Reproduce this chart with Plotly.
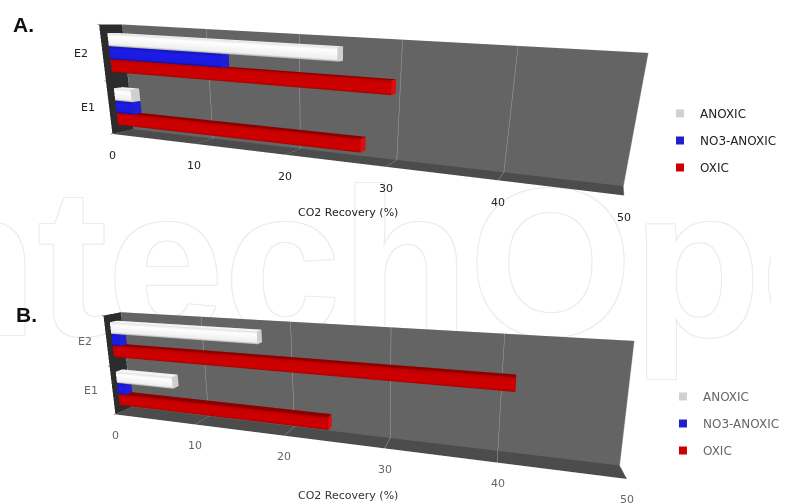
import numpy as np
import plotly.graph_objects as go

categories = ["E1", "E2"]
series_names = ["OXIC", "NO3-ANOXIC", "ANOXIC"]
panel_a_oxic = [27.2, 29.9]
panel_a_no3 = [2.1, 13.0]
panel_a_anoxic = [2.1, 24.8]
panel_b_oxic = [24.3, 41.1]
panel_b_no3 = [1.0, 1.0]
panel_b_anoxic = [7.1, 17.2]
value_ticks = [0, 10, 20, 30, 40, 50]

W, H = 785, 503

# camera: eye x/y/z, center x/y/z, roll, depth aspect, height aspect
CAM_A = [0.8842, -2.0709, 0.2841, 0.1703, 0.0644, -0.5852, -0.0423, 0.1258, 0.4249]
CAM_B = [0.5647, -1.4646, 0.5339, 0.0259, 0.6428, 0.1114, -0.0050, 0.0867, 0.4331]

COLORS = {
    "OXIC": dict(levels=["#a80000", "#cc0000", "#cc0000", "#b80000"], top="#8e0000", cap="#d81010", leg="#cc0000"),
    "NO3-ANOXIC": dict(levels=["#10109a", "#1a1ae0", "#1c1ce6", "#1414b8"], top="#0c0c80", cap="#2020d0", leg="#2020c8"),
    "ANOXIC": dict(levels=["#a8a8a8", "#efefef", "#ffffff", "#e2e2e2"], top="#f4f4f4", cap="#cfcfcf", leg="#d0d0d0"),
}
FRAC = [0, 0.15, 0.75, 1]
FLAT = dict(ambient=1, diffuse=0, specular=0, fresnel=0)


def bar_trace(name, values, scene, slot):
    xs, ys, zs, cols, I, J, K = [], [], [], [], [], [], []

    def quad(a, b, c, d, ca, cb, cc, cd):
        n = len(xs)
        for v, col in zip((a, b, c, d), (ca, cb, cc, cd)):
            xs.append(v[0]); ys.append(v[1]); zs.append(v[2]); cols.append(col)
        I.extend([n, n]); J.extend([n + 1, n + 2]); K.extend([n + 2, n + 3])

    st = COLORS[name]
    for n, v in enumerate(values):
        z0 = n + 0.15 + slot * 0.2333
        z1 = z0 + 0.2333
        y0, y1 = 0.3, 0.7
        for a in range(3):
            za, zb = z0 + FRAC[a] * (z1 - z0), z0 + FRAC[a + 1] * (z1 - z0)
            quad((0, y0, za), (v, y0, za), (v, y0, zb), (0, y0, zb), st["levels"][a], st["levels"][a], st["levels"][a + 1], st["levels"][a + 1])
        quad((0, y0, z1), (v, y0, z1), (v, y1, z1), (0, y1, z1), st["top"], st["top"], st["top"], st["top"])
        quad((v, y0, z0), (v, y1, z0), (v, y1, z1), (v, y0, z1), st["cap"], st["cap"], st["cap"], st["cap"])
    return go.Mesh3d(x=xs, y=ys, z=zs, i=I, j=J, k=K, vertexcolor=cols, flatshading=True, scene=scene,
                     lighting=FLAT, hoverinfo="skip", name=name, showlegend=False)


def side_wall(scene):
    return go.Mesh3d(x=[0, 0, 0, 0], y=[0, 1, 1, 0], z=[0, 0, 2, 2], i=[0, 0], j=[1, 2], k=[2, 3], color="#2c2c2c",
                     flatshading=True, lighting=FLAT, scene=scene, hoverinfo="skip", showlegend=False)


def scene_layout(p, top, vh, text_color, tick_drop):
    font = dict(family="DejaVu Sans", size=11, color=text_color)
    notes = []
    for t in value_ticks:
        notes.append(dict(x=t, y=0, z=0, text=str(t), showarrow=False, yshift=-tick_drop, font=font))
        notes.append(dict(x=t, y=0, z=0, text=" ", showarrow=True, arrowhead=0, arrowwidth=1, arrowcolor="#8a8a8a", ax=0, ay=5, font=font))
    for n, c in enumerate(categories):
        notes.append(dict(x=0, y=0, z=n + 0.5, text=c, showarrow=False, xshift=-21, font=font))
    for n in range(len(categories) + 1):
        notes.append(dict(x=0, y=0, z=n, text=" ", showarrow=True, arrowhead=0, arrowwidth=1, arrowcolor="#8a8a8a", ax=-5, ay=0, font=font))
    return dict(
        domain=dict(x=[0, 1], y=[1 - (top + vh) / H, 1 - top / H]),
        dragmode="orbit",
        aspectmode="manual",
        aspectratio=dict(x=2.0, y=p[7], z=p[8]),
        camera=dict(eye=dict(x=p[0], y=p[1], z=p[2]), center=dict(x=p[3], y=p[4], z=p[5]),
                    up=dict(x=float(np.sin(p[6])), y=0, z=float(np.cos(p[6]))), projection=dict(type="perspective")),
        xaxis=dict(range=[0, 50], tickvals=value_ticks, showticklabels=False, title="", showbackground=False,
                   gridcolor="#a3a3a3", gridwidth=1, zeroline=False, showline=False, showspikes=False),
        yaxis=dict(range=[0, 1], tickvals=[], showticklabels=False, title="", showbackground=True, backgroundcolor="#646464",
                   showgrid=False, zeroline=False, showline=False, showspikes=False),
        zaxis=dict(range=[0, 2], tickvals=[], showticklabels=False, title="", showbackground=True, backgroundcolor="#4c4c4c",
                   showgrid=False, zeroline=False, showline=False, showspikes=False),
        annotations=notes,
    )


fig = go.Figure()
fig.add_trace(go.Scatter(x=[436], y=[282], mode="text", text=["IntechOpen"], showlegend=False, hoverinfo="skip",
                         textfont=dict(family="Liberation Sans", size=210, weight="bold", color="#ffffff",
                                       shadow="1px 1px 0 #ececec, -1px -1px 0 #ececec, 1px -1px 0 #ececec, -1px 1px 0 #ececec")))
fig.add_trace(side_wall("scene"))
fig.add_trace(side_wall("scene2"))
for slot, (name, a, b) in enumerate(zip(series_names, [panel_a_oxic, panel_a_no3, panel_a_anoxic], [panel_b_oxic, panel_b_no3, panel_b_anoxic])):
    fig.add_trace(bar_trace(name, a, "scene", slot))
    fig.add_trace(bar_trace(name, b, "scene2", slot))
for lg in ("legend", "legend2"):
    for name in reversed(series_names):
        fig.add_trace(go.Scatter(x=[None], y=[None], mode="markers", name=name, legend=lg, legendgroup=lg + name,
                                 marker=dict(symbol="square", size=8, color=COLORS[name]["leg"])))

fig.update_layout(
    width=W, height=H, margin=dict(l=0, r=0, t=0, b=0), paper_bgcolor="white", plot_bgcolor="rgba(0,0,0,0)",
    xaxis=dict(range=[0, W], visible=False), yaxis=dict(range=[H, 0], visible=False),
    scene=scene_layout(CAM_A, 0, 503, "#222222", 22), scene2=scene_layout(CAM_B, 143, 360, "#666666", 21),
    legend=dict(x=672 / W, y=1 - 99 / H, xanchor="left", yanchor="top", tracegroupgap=8, bgcolor="rgba(0,0,0,0)", font=dict(family="DejaVu Sans", size=12, color="#222222")),
    legend2=dict(x=675 / W, y=1 - 382 / H, xanchor="left", yanchor="top", tracegroupgap=8, bgcolor="rgba(0,0,0,0)", font=dict(family="DejaVu Sans", size=12, color="#666666")),
    annotations=[
        dict(x=24 / W, y=1 - 25 / H, xref="paper", yref="paper", xanchor="center", yanchor="middle", text="<b>A.</b>", showarrow=False, font=dict(family="Liberation Sans", size=21, color="#111111")),
        dict(x=27 / W, y=1 - 314 / H, xref="paper", yref="paper", xanchor="center", yanchor="middle", text="<b>B.</b>", showarrow=False, font=dict(family="Liberation Sans", size=21, color="#111111")),
        dict(x=354 / W, y=1 - 212 / H, xref="paper", yref="paper", xanchor="center", yanchor="middle", text="CO2 Recovery (%)", showarrow=False, font=dict(family="DejaVu Sans", size=11, color="#222222")),
        dict(x=354 / W, y=1 - 495 / H, xref="paper", yref="paper", xanchor="center", yanchor="middle", text="CO2 Recovery (%)", showarrow=False, font=dict(family="DejaVu Sans", size=11, color="#333333")),
    ],
)
fig.write_html("out.html", post_script="document.body.style.margin='0';", config=dict(displayModeBar=False))
